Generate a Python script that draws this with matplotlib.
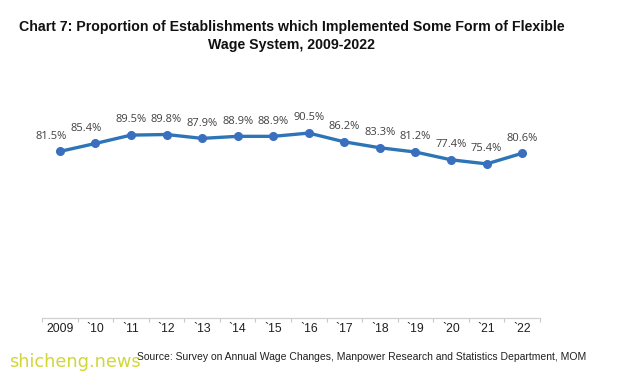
import matplotlib
matplotlib.use('Agg')
import matplotlib.pyplot as plt

years = ['2009', '`10', '`11', '`12', '`13', '`14', '`15', '`16', '`17', '`18', '`19', '`20', '`21', '`22']
share = [81.5, 85.4, 89.5, 89.8, 87.9, 88.9, 88.9, 90.5, 86.2, 83.3, 81.2, 77.4, 75.4, 80.6]

W, H = 619, 377
fig = plt.figure(figsize=(W / 100, H / 100), dpi=100)

# plot area in pixel coords of the reference
left, right, bottom, top = 42, 540, 317.7, 113.7
ax = fig.add_axes([left / W, 1 - bottom / H, (right - left) / W, (bottom - top) / H])

x = range(len(years))
ax.plot(x, share, color='#2E75B6', lw=2.4, marker='o', ms=5.5,
        mec='#3A6FBF', mfc='#3A6FBF', solid_capstyle='round')

# first two labels sit a little to the left in the original
dx = {0: -6, 1: -7}
for i, v in enumerate(share):
    ax.annotate(f'{v:.1f}%', (i, v), xytext=(dx.get(i, 0), 7), textcoords='offset points',
                ha='center', va='bottom', fontsize=8, color='#404040', family='Open Sans')

ax.set_xlim(-0.5, len(years) - 0.5)
ax.set_ylim(0, 100)
ax.set_yticks([])
ax.set_xticks([i + 0.5 for i in range(-1, len(years))], minor=False)
ax.set_xticklabels([])
ax.set_xticks(list(x), minor=True)
ax.set_xticklabels(years, minor=True, fontsize=8.8, family='Liberation Sans', color='#202020')
ax.tick_params(axis='x', which='major', length=3, color='#c8c8c8', width=0.8)
ax.tick_params(axis='x', which='minor', length=0, pad=4)
for s in ['top', 'right', 'left']:
    ax.spines[s].set_visible(False)
ax.spines['bottom'].set_color('#d0d0d0')
ax.spines['bottom'].set_linewidth(0.9)

fig.text(292 / W, 1 - 36 / H,
         'Chart 7: Proportion of Establishments which Implemented Some Form of Flexible\nWage System, 2009-2022',
         ha='center', va='center', fontsize=10.2, fontweight='bold', family='Liberation Sans',
         linespacing=1.45, color='#111111')

fig.text(137 / W, 1 - 357 / H,
         'Source: Survey on Annual Wage Changes, Manpower Research and Statistics Department, MOM',
         ha='left', va='center', fontsize=7.5, family='Liberation Sans', color='#202020')

fig.text(9 / W, 1 - 362 / H, 'shicheng.news', ha='left', va='center', fontsize=12.8,
         family='DejaVu Sans', color='#cbd320', alpha=0.9)

fig.savefig('out.png', dpi=100)
